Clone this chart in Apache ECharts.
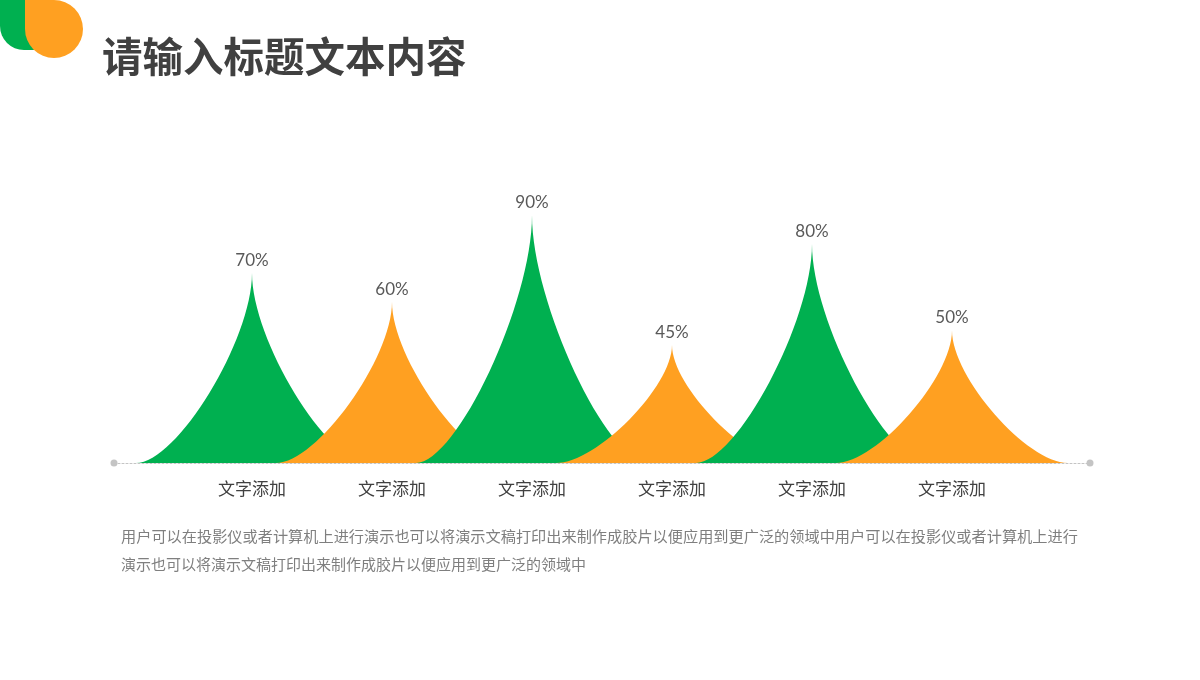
<!DOCTYPE html>
<html>
<head>
<meta charset="utf-8">
<script src="https://cdn.jsdelivr.net/npm/echarts@6/dist/echarts.min.js"></script>
<style>html,body{margin:0;padding:0;background:#fff;}#main{width:1200px;height:680px;}</style>
</head>
<body>
<div id="main"></div>
<script>
var categories = ['文字添加', '文字添加', '文字添加', '文字添加', '文字添加', '文字添加'];
var values = [70, 60, 90, 45, 80, 50];
var palette = ['#00B050', '#FFA021'];
var titleText = '请输入标题文本内容';
var bodyLine1 = '用户可以在投影仪或者计算机上进行演示也可以将演示文稿打印出来制作成胶片以便应用到更广泛的领域中用户可以在投影仪或者计算机上进行';
var bodyLine2 = '演示也可以将演示文稿打印出来制作成胶片以便应用到更广泛的领域中';

var spike = 'path://M0,10 L10,10 C8.24,10 5,3.53 5,0 C5,3.53 1.76,10 0,10 z';

var chart = echarts.init(document.getElementById('main'));
chart.setOption({
  backgroundColor: '#ffffff',
  animation: false,
  grid: [
    { left: 182, right: 178, top: 186.5, bottom: 217 },
    { left: 114, right: 110, top: 400, bottom: 217 }
  ],
  xAxis: [
    {
      type: 'category', gridIndex: 0, data: categories,
      axisLine: { show: false }, axisTick: { show: false },
      axisLabel: { fontSize: 17, color: '#404040', margin: 17, fontFamily: 'Noto Sans CJK SC' }
    },
    {
      type: 'value', gridIndex: 1, min: 0, max: 1,
      axisLabel: { show: false }, axisTick: { show: false }, splitLine: { show: false },
      axisLine: { show: true, symbol: ['circle', 'circle'], symbolSize: [7, 7],
        lineStyle: { color: '#C4C4C4', type: [2, 2], width: 1 } }
    }
  ],
  yAxis: [
    { type: 'value', gridIndex: 0, min: 4, max: 100, startValue: 4, show: false, splitLine: { show: false } },
    { type: 'value', gridIndex: 1, show: false, splitLine: { show: false } }
  ],
  series: [{
    type: 'pictorialBar',
    xAxisIndex: 0, yAxisIndex: 0,
    symbol: spike,
    symbolSize: [232, '100%'],
    z: 10,
    label: {
      show: true, position: 'top', distance: 4,
      formatter: '{c}%', fontSize: 17, color: '#595959', fontFamily: 'Lato'
    },
    data: values.map(function (v, i) {
      return { value: v, itemStyle: { color: palette[i % 2] } };
    })
  }],
  graphic: [
    { type: 'rect', left: 0, top: 0, shape: { x: 0, y: 0, width: 50, height: 50, r: [0, 0, 0, 24] }, style: { fill: '#00B050' } },
    { type: 'rect', left: 25, top: 0, shape: { x: 0, y: 0, width: 58, height: 58, r: [0, 29, 29, 29] }, style: { fill: '#FFA021' } },
    { type: 'text', left: 102, top: 36, style: { text: titleText, fontSize: 40.5, fontWeight: 'bold', fill: '#404040', fontFamily: 'Noto Sans CJK SC' } },
    { type: 'text', left: 121, top: 529, style: { text: bodyLine1, fontSize: 15.2, fill: '#7F7F7F', fontFamily: 'Noto Sans CJK SC' } },
    { type: 'text', left: 121, top: 557, style: { text: bodyLine2, fontSize: 15, fill: '#7F7F7F', fontFamily: 'Noto Sans CJK SC' } }
  ]
});
</script>
</body>
</html>
